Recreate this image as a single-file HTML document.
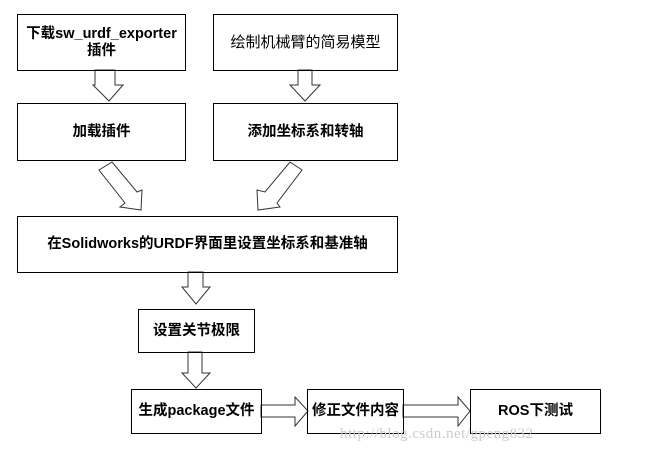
<!DOCTYPE html>
<html><head><meta charset="utf-8"><style>
body{margin:0;width:652px;height:454px;background:#fff;overflow:hidden;position:relative;font-family:"Liberation Sans","Noto Sans CJK SC",sans-serif;}
.b{position:absolute;border:1.5px solid #000;box-sizing:border-box;display:flex;align-items:center;justify-content:center;text-align:center;font-weight:bold;font-size:14.5px;line-height:17px;color:#000;}
svg{position:absolute;left:0;top:0}
.w{position:absolute;left:340px;top:426px;font-family:"Liberation Serif",serif;font-size:15px;color:#ccc;letter-spacing:0.5px}
</style></head><body>
<svg width="652" height="454">
<g fill="#fff" stroke="#333" stroke-width="1">
<polygon points="95,70 115,70 115,85 123,85 109,101 93,85 95,85"/>
<polygon points="298,70 312,70 312,85 320,85 305,101 290,85 298,85"/>
<polygon points="99,170 112,162 137,192 142,190 141,210 120,207 125,203"/>
<polygon points="302,170 290,162 265,192 257,190 258,210 280,207 277,203"/>
<polygon points="188,272 203,272 203,287 210,287 196,304 182,287 188,287"/>
<polygon points="188,352 202,352 202,373 210,373 196,388 182,373 188,373"/>
<polygon points="261,405 295,405 295,397 308,411 295,426 295,417 261,417"/>
<polygon points="403,405 458,405 458,397 470,411 458,426 458,417 403,417"/>
</g>
</svg>
<div class="b" style="left:17px;top:14px;width:169px;height:57px">下载sw_urdf_exporter<br>插件</div>
<div class="b" style="left:213px;top:14px;width:185px;height:57px;font-weight:normal;font-size:15px">绘制机械臂的简易模型</div>
<div class="b" style="left:17px;top:103px;width:169px;height:58px">加载插件</div>
<div class="b" style="left:213px;top:103px;width:185px;height:58px">添加坐标系和转轴</div>
<div class="b" style="left:17px;top:216px;width:381px;height:57px">在Solidworks的URDF界面里设置坐标系和基准轴</div>
<div class="b" style="left:138px;top:309px;width:117px;height:44px">设置关节极限</div>
<div class="b" style="left:131px;top:389px;width:131px;height:45px">生成package文件</div>
<div class="b" style="left:307px;top:389px;width:97px;height:45px">修正文件内容</div>
<div class="b" style="left:470px;top:389px;width:131px;height:45px">ROS下测试</div>
<div class="w">http://blog.csdn.net/gpeng832</div>
</body></html>
